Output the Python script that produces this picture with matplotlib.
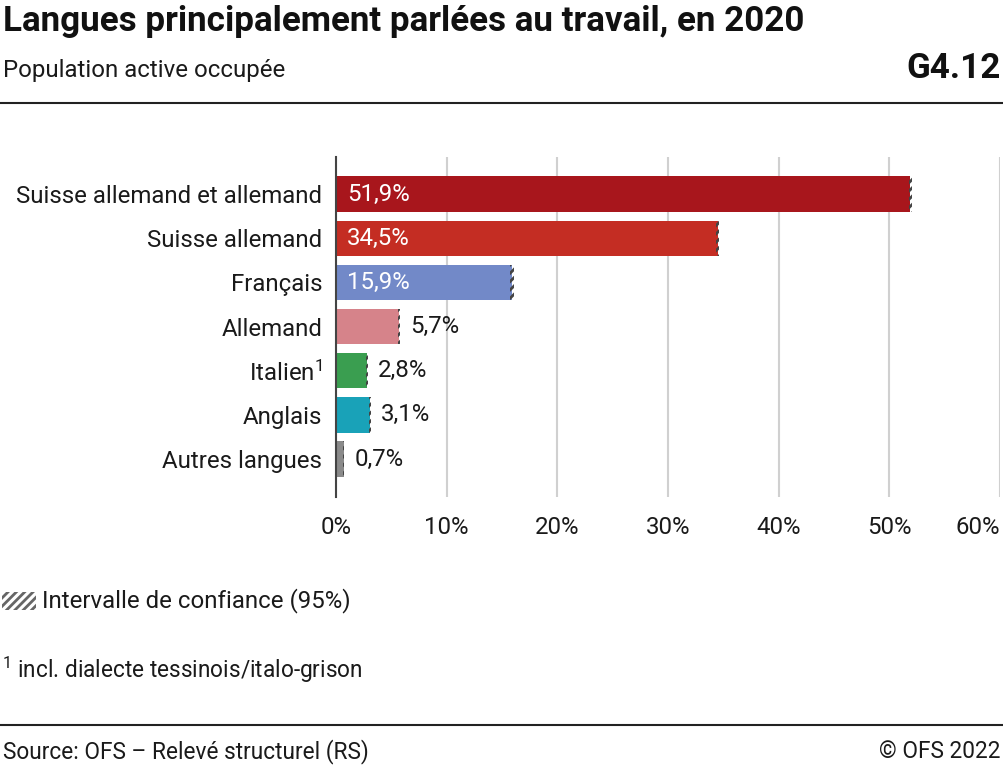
import matplotlib.pyplot as plt
from matplotlib.patches import Rectangle

plt.rcParams['font.family'] = ['Roboto', 'DejaVu Sans']
plt.rcParams['mathtext.fontset'] = 'custom'
plt.rcParams['mathtext.rm'] = 'Roboto'
plt.rcParams['mathtext.it'] = 'Roboto'
plt.rcParams['hatch.linewidth'] = 2.0

categories = ["Suisse allemand et allemand", "Suisse allemand", "Français", "Allemand",
              "Italien$^\\mathrm{1}$", "Anglais", "Autres langues"]
values = [51.9, 34.5, 15.9, 5.7, 2.8, 3.1, 0.7]
ci = [0.15, 0.15, 0.15, 0.1, 0.07, 0.08, 0.04]
colors = ["#a8161c", "#c42d23", "#7289c8", "#d6838a", "#3a9e50", "#19a2b8", "#8a8a8a"]
inside = [True, True, True, False, False, False, False]
ticks = [0, 10, 20, 30, 40, 50, 60]

W, H = 1004, 768
fig = plt.figure(figsize=(W / 100, H / 100), dpi=100)
ax = fig.add_axes([336 / W, 1 - 497 / H, (1000 - 336) / W, (497 - 157) / H])

FS = 17.3
TC = "#1a1a1a"
y = list(range(len(categories)))
ax.barh(y, values, height=0.8, color=colors, zorder=3)
for i, (v, c) in enumerate(zip(values, ci)):
    ax.add_patch(Rectangle((v - c, i - 0.4), 2 * c, 0.8, facecolor="none", edgecolor="#444444",
                           hatch="////", linewidth=0, zorder=4))
    if inside[i]:
        ax.text(1, i, f"{v:.1f}%".replace(".", ","), color="white", va="center", ha="left",
                fontsize=FS, zorder=5)
    else:
        ax.text(v + c + 0.9, i, f"{v:.1f}%".replace(".", ","), color=TC, va="center", ha="left",
                fontsize=FS, zorder=5)

ax.set_yticks(y)
ax.set_yticklabels(categories, fontsize=FS, color=TC)
ax.set_ylim(len(categories) - 0.14, -0.84)
ax.set_xlim(0, 60)
ax.set_xticks(ticks)
xl = ax.set_xticklabels([f"{t}%" for t in ticks], fontsize=FS, color=TC)
xl[-1].set_ha("right")
ax.tick_params(length=0, pad=10)
ax.tick_params(axis="x", pad=14)
ax.grid(axis="x", color="#d0d0d0", linewidth=1.5, zorder=0)
for s in ["top", "right", "bottom"]:
    ax.spines[s].set_visible(False)
ax.spines["left"].set_color("#444444")
ax.spines["left"].set_linewidth(1.5)
ax.spines["left"].set_zorder(6)

fig.text(3 / W, 1 - 21 / H, "Langues principalement parlées au travail, en 2020", fontsize=25.2,
         fontweight="bold", va="center", ha="left", color="#111111")
fig.text(3 / W, 1 - 70 / H, "Population active occupée", fontsize=FS,
         va="center", ha="left", color=TC)
fig.text(1001 / W, 1 - 68 / H, "G4.12", fontsize=25.2, fontweight="bold", va="center", ha="right", color="#111111")
fig.add_artist(plt.Line2D([0, 1], [1 - 103 / H, 1 - 103 / H], color="#222222", linewidth=1.5))
fig.add_artist(plt.Line2D([0, 1], [1 - 725 / H, 1 - 725 / H], color="#222222", linewidth=1.5))

fig.patches.append(Rectangle((2 / W, 1 - 610 / H), 34 / W, 18 / H, transform=fig.transFigure,
                             facecolor="white", edgecolor="#666666", hatch="////", linewidth=0))
fig.text(42 / W, 1 - 601 / H, "Intervalle de confiance (95%)", fontsize=FS,
         va="center", ha="left", color=TC)
fig.text(2 / W, 1 - 670 / H, "$^\\mathrm{1}$ incl. dialecte tessinois/italo-grison", fontsize=16.3,
         va="center", ha="left", color=TC)
fig.text(3 / W, 1 - 752 / H, "Source: OFS – Relevé structurel (RS)", fontsize=16.3,
         va="center", ha="left", color=TC)
fig.text(1001 / W, 1 - 752 / H, "© OFS 2022", fontsize=16.3,
         va="center", ha="right", color=TC)

fig.savefig("out.png", dpi=100)
